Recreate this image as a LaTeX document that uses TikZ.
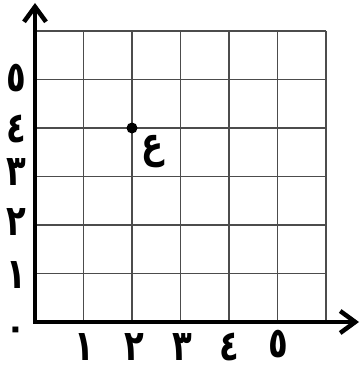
\documentclass[tikz,border=0pt]{standalone}
\usepackage{fontspec}
\usepackage{graphicx}
\newfontfamily\arabicfont[Script=Arabic]{DejaVu Sans}
\TeXXeTstate=1
\usetikzlibrary{arrows.meta}
\newcommand{\tallglyph}[1]{\scalebox{0.95}[1.25]{#1}}
\begin{document}
\begin{tikzpicture}[x=1pt,y=-1pt,
  gridline/.style={draw=black!70, line width=1.1pt},
  axis/.style={line width=4.5pt, line join=miter,
    {Straight Barb[length=15pt,width=22pt]}-{Straight Barb[length=15pt,width=22pt]}},
  lbl/.style={font=\arabicfont\bfseries\fontsize{34}{40}\selectfont, inner sep=0pt},
  num/.style={lbl, anchor=base, text height=22pt, text depth=1pt},
  ptdot/.style={circle, fill=black, inner sep=0pt, minimum size=11pt}]
\useasboundingbox (0,0) rectangle (362,369);
% grid
\foreach \i in {1,...,6} {
  \draw[gridline] ({35+48.5*\i},31) -- ({35+48.5*\i},322);
  \draw[gridline] (35,{322-48.5*\i}) -- (326,{322-48.5*\i});
}
% axes
\coordinate (O) at (35,322);
\coordinate (ytip) at (35,3);
\coordinate (xtip) at (359,322);
\draw[axis] (ytip) -- (O) -- (xtip);
% y labels
\node[num] (y5) at (16,91) {\tallglyph{٥}};
\node[num] (y4) at (16,142) {\tallglyph{٤}};
\node[num] (y3) at (16,185) {\tallglyph{٣}};
\node[num] (y2) at (16,235) {\tallglyph{٢}};
\node[num] (y1) at (16,288) {\tallglyph{١}};
\node[num] (y0) at (16,339) {٠};
% x labels
\node[num] (x1) at (84,360) {\tallglyph{١}};
\node[num] (x2) at (134,360) {\tallglyph{٢}};
\node[num] (x3) at (182,360) {\tallglyph{٣}};
\node[num] (x4) at (229,360) {\tallglyph{٤}};
\node[num] (x5) at (278,357) {\tallglyph{٥}};
% point
\node[ptdot] (P) at (132,128) {};
\node[lbl] (Plbl) at (153,151) {\tallglyph{\beginR ع\endR}};
\end{tikzpicture}
\end{document}
